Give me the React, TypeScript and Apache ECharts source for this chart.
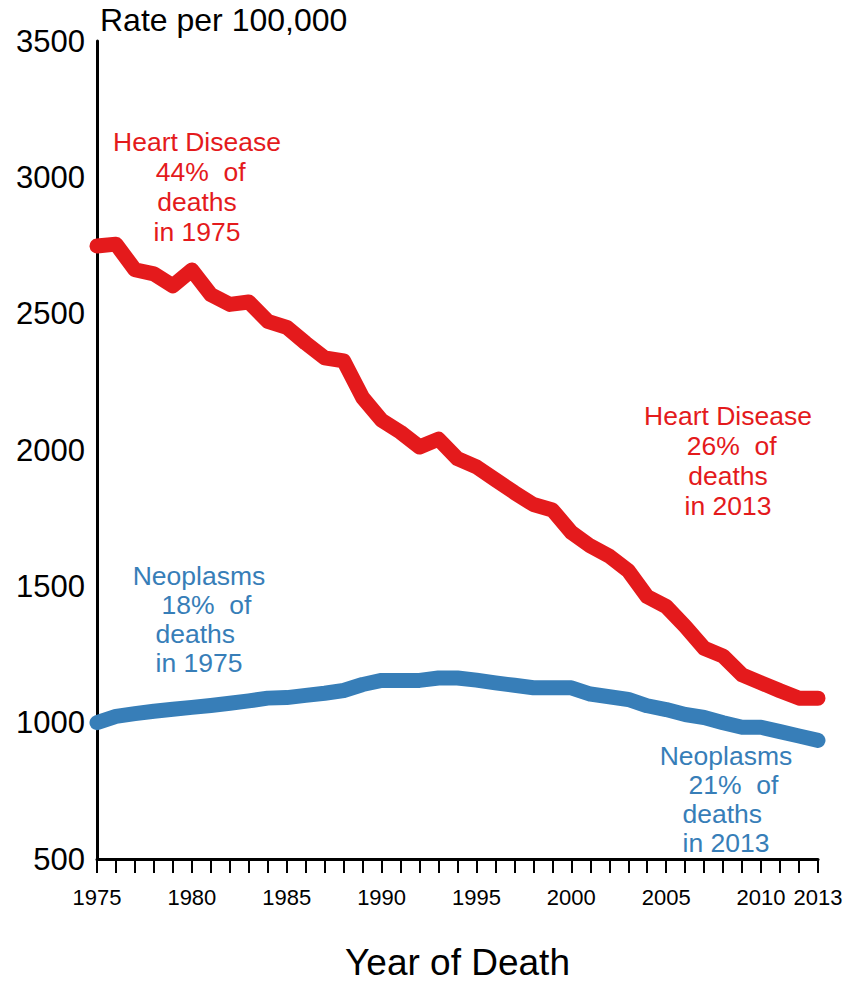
import React, { useEffect, useRef } from "react";
import * as echarts from "echarts";

const years: number[] = [];
for (let y = 1975; y <= 2013; y++) years.push(y);

const heartDisease = [
  2748, 2755, 2661, 2646, 2602, 2660, 2570, 2534, 2543, 2472,
  2450, 2392, 2338, 2327, 2192, 2109, 2065, 2011, 2040, 1968,
  1938, 1891, 1844, 1800, 1780, 1698, 1648, 1611, 1557, 1462,
  1426, 1353, 1273, 1244, 1175, 1146, 1117, 1090, 1090,
];

const neoplasms = [
  1000, 1023, 1033, 1042, 1049, 1056, 1063, 1071, 1080, 1090,
  1092, 1100, 1108, 1118, 1140, 1155, 1155, 1155, 1164, 1164,
  1156, 1146, 1137, 1128, 1128, 1128, 1105, 1095, 1085, 1062,
  1048, 1030, 1019, 1000, 983, 983, 967, 951, 935,
];

const yTicks = [500, 1000, 1500, 2000, 2500, 3000, 3500];
const xLabelYears = [1975, 1980, 1985, 1990, 1995, 2000, 2005, 2010, 2013];

const RED = "#E41A1C";
const BLUE = "#377EB8";
const FONT = "'Liberation Sans', Arial, sans-serif";

export default function App() {
  const ref = useRef<HTMLDivElement>(null);
  useEffect(() => {
    document.body.style.margin = "0";
    const chart = echarts.init(ref.current!, null, { renderer: "svg" });
    chart.setOption({
      animation: false,
      textStyle: { fontFamily: FONT },
      grid: { left: 97, right: 44, top: 41, bottom: 119 },
      xAxis: {
        type: "value",
        min: 1975,
        max: 2013,
        interval: 1,
        splitLine: { show: false },
        axisLine: { show: true, lineStyle: { color: "#000", width: 3 } },
        axisTick: { show: true, inside: false, length: 14, lineStyle: { color: "#000", width: 2 } },
        axisLabel: {
          margin: 27,
          fontSize: 22,
          color: "#000",
          fontFamily: FONT,
          formatter: (v: number) => (xLabelYears.indexOf(v) >= 0 ? String(v) : ""),
        },
        name: "Year of Death",
        nameLocation: "middle",
        nameGap: 85,
        nameTextStyle: { fontSize: 37, color: "#000", fontFamily: FONT },
      },
      yAxis: {
        type: "value",
        min: yTicks[0],
        max: yTicks[yTicks.length - 1],
        interval: 500,
        splitLine: { show: false },
        axisLine: { show: true, lineStyle: { color: "#000", width: 3 } },
        axisTick: { show: false },
        axisLabel: {
          margin: 12,
          fontSize: 31,
          color: "#000",
          fontFamily: FONT,
          formatter: (v: number) => String(v),
        },
      },
      graphic: [
        {
          type: "text",
          left: 100,
          top: 4,
          style: { text: "Rate per 100,000", font: `32px ${FONT}`, fill: "#000" },
        },
        {
          type: "text",
          x: 197,
          y: 127,
          style: {
            text: "Heart Disease\n 44%  of\ndeaths\nin 1975",
            font: `26.5px ${FONT}`,
            fill: RED,
            align: "center",
            lineHeight: 30,
          },
        },
        {
          type: "text",
          x: 728,
          y: 401,
          style: {
            text: "Heart Disease\n 26%  of\ndeaths\nin 2013",
            font: `26.5px ${FONT}`,
            fill: RED,
            align: "center",
            lineHeight: 30,
          },
        },
        {
          type: "text",
          x: 199,
          y: 561,
          style: {
            text: "Neoplasms\n  18%  of\ndeaths \nin 1975",
            font: `26.5px ${FONT}`,
            fill: BLUE,
            align: "center",
            lineHeight: 29,
          },
        },
        {
          type: "text",
          x: 726,
          y: 741,
          style: {
            text: "Neoplasms\n  21%  of\ndeaths \nin 2013",
            font: `26.5px ${FONT}`,
            fill: BLUE,
            align: "center",
            lineHeight: 29,
          },
        },
      ],
      series: [
        {
          type: "line",
          data: years.map((y, i) => [y, heartDisease[i]]),
          symbol: "none",
          lineStyle: { color: RED, width: 15, cap: "round", join: "round" },
        },
        {
          type: "line",
          data: years.map((y, i) => [y, neoplasms[i]]),
          symbol: "none",
          lineStyle: { color: BLUE, width: 15, cap: "round", join: "round" },
        },
      ],
    });
    return () => chart.dispose();
  }, []);
  return <div ref={ref} style={{ width: 862, height: 986 }} />;
}
